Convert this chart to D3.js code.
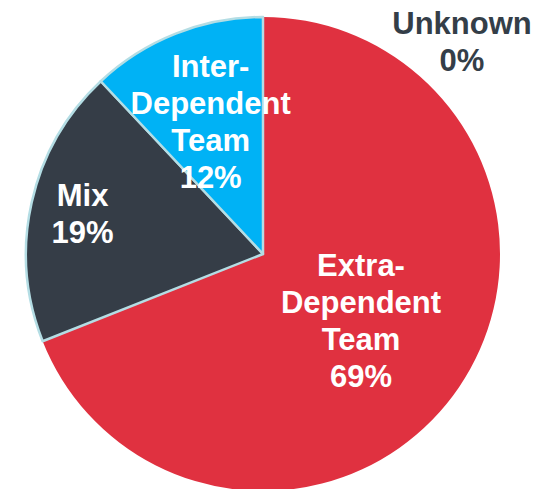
<!DOCTYPE html>
<html>
<head>
<meta charset="utf-8">
<script src="https://cdn.jsdelivr.net/npm/d3@7"></script>
<style>
  body { margin: 0; background: #fff; }
  svg { display: block; }
  text { font-family: "Liberation Sans", Arial, sans-serif; font-weight: bold; }
</style>
</head>
<body>
<svg id="pie" width="545" height="489"></svg>
<script>
const categories = ["Extra-Dependent Team", "Mix", "Inter-Dependent Team", "Unknown"];
const labelLines = [["Extra-", "Dependent", "Team"], ["Mix"], ["Inter-", "Dependent", "Team"], ["Unknown"]];
const shares = [69, 19, 12, 0];
const colors = ["#e03140", "#353d47", "#00b2f5", "#353d47"];

const width = 545, height = 489;
const cx = 263, cy = 254, radius = 237;
const lineH = 37;

// where each label sits, as fraction of radius (unknown sits outside the pie)
const labelRadius = [0.5, 0.78, 0.6, 1.23];

let data = categories.map(function(c, i) {
  return {name: c, lines: labelLines[i], value: shares[i], color: colors[i], idx: i};
});

let pie = d3.pie().sort(null).value(function(d) { return d.value; });
let arc = d3.arc().innerRadius(0).outerRadius(radius);
let arcs = pie(data);

let svg = d3.select("#pie");
let g = svg.append("g")
  .attr("transform", "translate(" + cx + "," + cy + ")");

g.selectAll("path")
  .data(arcs.filter(function(d) { return d.value > 0; }))
  .enter()
  .append("path")
  .attr("d", arc)
  .attr("fill", function(d) { return d.data.color; })
  .attr("stroke", function(d) { return d.data.idx === 0 ? "none" : "#b4dde4"; })
  .attr("stroke-width", 2.5)
  .attr("stroke-linejoin", "round");

let labels = g.selectAll("text.label")
  .data(arcs)
  .enter()
  .append("text")
  .attr("class", "label")
  .attr("text-anchor", "middle")
  .attr("font-size", 31)
  .attr("fill", function(d) { return d.value > 0 ? "#ffffff" : "#343e48"; })
  .attr("transform", function(d) {
    let r = radius * labelRadius[d.data.idx];
    let a = (d.startAngle + d.endAngle) / 2;
    let x = Math.sin(a) * r, y = -Math.cos(a) * r;
    if (d.value === 0) { x = 199; y = -213; }
    return "translate(" + x + "," + y + ")";
  });

labels.each(function(d) {
  let lines = d.data.lines.concat([d.value + "%"]);
  let t = d3.select(this);
  let top = -(lines.length - 1) / 2 * lineH;
  lines.forEach(function(l, i) {
    t.append("tspan")
      .attr("x", 0)
      .attr("y", top + i * lineH + 11)
      .text(l);
  });
});
</script>
</body>
</html>
